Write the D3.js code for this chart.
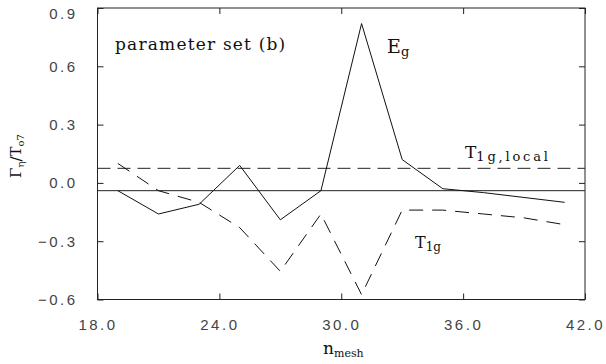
<!DOCTYPE html>
<html>
<head>
<meta charset="utf-8">
<script src="https://cdn.jsdelivr.net/npm/d3@7"></script>
<style>
  body { margin: 0; background: #fff; }
  svg { display: block; }
  .tick text { font-family: "Liberation Sans", sans-serif; font-size: 15px; fill: #444; letter-spacing: 2.5px; }
  .tick line { stroke: #222; }
  .lbl { font-family: "DejaVu Serif", serif; fill: #111; }
</style>
</head>
<body>
<svg id="chart" width="606" height="364"></svg>
<script>
// values
const nMesh = [19, 21, 23, 25, 27, 29, 31, 33, 35, 37, 39, 41];
const eg = [-0.04, -0.16, -0.11, 0.09, -0.19, -0.04, 0.82, 0.12, -0.03, -0.05, -0.075, -0.10];
const t1g = [0.10, -0.04, -0.10, -0.23, -0.455, -0.16, -0.575, -0.14, -0.14, -0.16, -0.18, -0.215];
const t1gLocal = 0.075;
const baseLevel = -0.04;
const xTicks = [18, 24, 30, 36, 42];
const yTicks = [-0.6, -0.3, 0.0, 0.3, 0.6, 0.9];

const margin = {top: 8, right: 21, bottom: 64.5, left: 97.5};
const width = 606 - margin.left - margin.right;
const height = 364 - margin.top - margin.bottom;

const svg = d3.select("#chart")
  .append("g")
  .attr("transform", "translate(" + margin.left + "," + margin.top + ")");

const x = d3.scaleLinear().domain([18, 42]).range([0, width]);
const y = d3.scaleLinear().domain([-0.6, 0.9]).range([height, 0]);

// axes, ticks pointing inward
const xAxis = svg.append("g")
  .attr("transform", "translate(0," + height + ")")
  .call(d3.axisBottom(x).tickValues(xTicks).tickFormat(d3.format(".1f"))
    .tickSizeInner(-6).tickSizeOuter(0).tickPadding(20));
xAxis.select(".domain").remove();

const yAxis = svg.append("g")
  .call(d3.axisLeft(y).tickValues(yTicks).tickFormat(d3.format(".1f"))
    .tickSizeInner(-6).tickSizeOuter(0).tickPadding(20));
yAxis.select(".domain").remove();
// top label sits a bit lower than its tick
yAxis.selectAll(".tick text").filter(d => d === 0.9).attr("dy", "0.7em");

svg.append("g")
  .call(d3.axisTop(x).tickValues(xTicks).tickFormat("").tickSizeInner(-6).tickSizeOuter(0))
  .select(".domain").remove();

svg.append("g")
  .attr("transform", "translate(" + width + ",0)")
  .call(d3.axisRight(y).tickValues(yTicks).tickFormat("").tickSizeInner(-6).tickSizeOuter(0))
  .select(".domain").remove();

// frame
svg.append("rect")
  .attr("width", width)
  .attr("height", height)
  .attr("fill", "none")
  .attr("stroke", "#222")
  .attr("stroke-width", 1);

// horizontal reference lines
svg.append("line")
  .attr("x1", x(18)).attr("x2", x(42))
  .attr("y1", y(baseLevel)).attr("y2", y(baseLevel))
  .attr("stroke", "#222").attr("stroke-width", 1);

svg.append("line")
  .attr("x1", x(18)).attr("x2", x(42))
  .attr("y1", y(t1gLocal)).attr("y2", y(t1gLocal))
  .attr("stroke", "#222").attr("stroke-width", 1)
  .attr("stroke-dasharray", "13,7");

const line = d3.line()
  .x((d, i) => x(nMesh[i]))
  .y(d => y(d));

svg.append("path")
  .datum(eg)
  .attr("d", line)
  .attr("fill", "none")
  .attr("stroke", "#111")
  .attr("stroke-width", 1);

svg.append("path")
  .datum(t1g)
  .attr("d", line)
  .attr("fill", "none")
  .attr("stroke", "#111")
  .attr("stroke-width", 1)
  .attr("stroke-dasharray", "14,9");

// labels (page coordinates)
const root = d3.select("#chart");

root.append("text")
  .attr("class", "lbl")
  .attr("x", 115).attr("y", 50)
  .style("font-size", "17px")
  .style("letter-spacing", "1.2px")
  .text("parameter set (b)");

function subLabel(px, py, main, sub, mainSize, subSize, shift) {
  const t = root.append("text").attr("class", "lbl").attr("x", px).attr("y", py);
  t.append("tspan").style("font-size", mainSize + "px").text(main);
  t.append("tspan").style("font-size", subSize + "px").attr("dy", shift).text(sub);
  return t;
}

subLabel(387, 53, "E", "g", 19, 13, 3);
subLabel(465, 158, "T", "1g,local", 17, 13, 3).select("tspan:last-child").style("letter-spacing", "2.8px");
subLabel(415, 248, "T", "1g", 16, 12, 3);
subLabel(323, 354, "n", "mesh", 17, 11, 3);

// y axis title
const yt = root.append("text")
  .attr("class", "lbl")
  .attr("transform", "translate(21,178) rotate(-90)")
  .style("font-size", "15px");
yt.append("tspan").text("Γ");
yt.append("tspan").style("font-size", "10px").attr("dy", 3).text("η");
yt.append("tspan").attr("dy", -3).text("/T");
yt.append("tspan").style("font-size", "10px").attr("dy", 3).text("o7");
</script>
</body>
</html>
